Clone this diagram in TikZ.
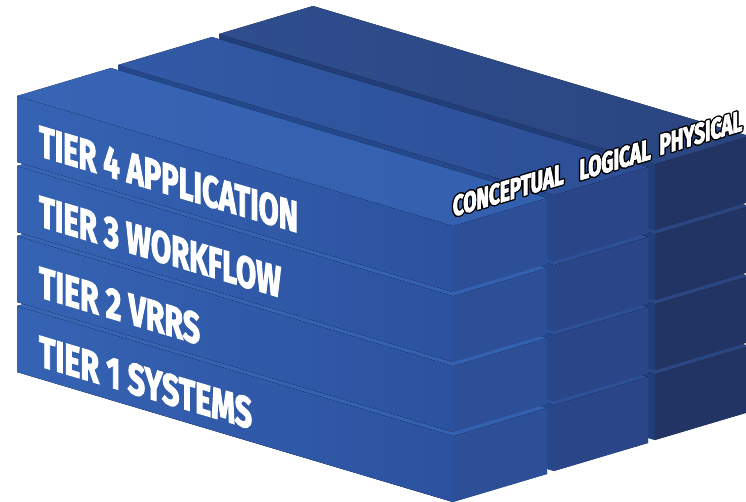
\documentclass[tikz,border=0pt]{standalone}
\usepackage{fontspec}
\usepackage{graphicx}
\setmainfont{Fira Sans}
\newfontfamily\tierfont{Fira Sans}[BoldFeatures={FakeBold=3}]
\newfontfamily\colfont{Fira Sans}[BoldFeatures={FakeBold=3,FakeStretch=0.65}]
\usetikzlibrary{calc}

\definecolor{cAfl}{HTML}{3563B3}
\definecolor{cAfr}{HTML}{2C529F}
\definecolor{cAr}{HTML}{2D4F98}
\definecolor{cAt}{HTML}{3764B4}
\definecolor{cAt2}{HTML}{3260AE}
\definecolor{cBf}{HTML}{25478B}
\definecolor{cBr}{HTML}{2A4688}
\definecolor{cBt}{HTML}{325AA6}
\definecolor{cBt2}{HTML}{2C4E95}
\definecolor{cCf}{HTML}{213E78}
\definecolor{cCr}{HTML}{213463}
\definecolor{cCt}{HTML}{2F4E8E}
\definecolor{cCt2}{HTML}{2A4580}

\newcommand\olcopy[3]{\makebox[0pt][l]{\color{black}\kern#1\raisebox{#2}{#3}}}
\newcommand\outlined[1]{%
  \olcopy{-1.4pt}{0pt}{#1}\olcopy{1.4pt}{0pt}{#1}%
  \olcopy{0pt}{1.4pt}{#1}\olcopy{0pt}{-1.4pt}{#1}%
  \olcopy{-1pt}{1pt}{#1}\olcopy{1pt}{1pt}{#1}%
  \olcopy{-1pt}{-1pt}{#1}\olcopy{1pt}{-1pt}{#1}%
  #1}

\tikzset{
  front0/.style={left color=cAfl, right color=cAfr},
  right0/.style={fill=cAr},
  top0/.style={left color=cAt, right color=cAt2},
  sil0/.style={fill=cAr},
  front1/.style={fill=cBf},
  right1/.style={fill=cBr},
  top1/.style={left color=cBt, right color=cBt2},
  sil1/.style={fill=cBr},
  front2/.style={fill=cCf},
  right2/.style={fill=cCr},
  top2/.style={left color=cCt, right color=cCt2},
  sil2/.style={fill=cCr},
  tierlbl/.style={anchor=base west, inner sep=0pt, outer sep=0pt, text=white,
    font=\tierfont\bfseries, yslant=-0.296},
  collbl/.style={anchor=base west, inner sep=0pt, outer sep=0pt, text=white,
    font=\colfont\bfseries\fontsize{29pt}{32pt}\selectfont, yslant=0.298},
}

% block: #1 column (0 front .. 2 back), #2 tier (1 bottom .. 4 top)
\newcommand\drawblock[2]{%
  \pgfmathsetmacro\px{17+101*#1}%
  \pgfmathsetmacro\py{372-31*#1}%
  \pgfmathsetmacro\zb{(#2-1)*70}%
  \pgfmathsetmacro\ya{\py-\zb}%
  \pgfmathsetmacro\yt{\py-\zb-66}%
  \fill[sil#1] (\px,\ya) -- ++(436,130) -- ++(94,-28) -- ++(0,-66)
     -- ++(-94,28) -- ++(-436,-130) -- cycle;
  \fill[front#1] (\px,\ya) -- ++(436,130) -- ++(0,-66) -- ++(-436,-130) -- cycle;
  \fill[right#1] ($(\px,\ya)+(436,130)$) -- ++(94,-28) -- ++(0,-66) -- ++(-94,28) -- cycle;
  \fill[top#1] (\px,\yt) -- ++(436,130) -- ++(94,-28) -- ++(-436,-130) -- cycle;
}

\begin{document}
\begin{tikzpicture}[x=1pt,y=-1pt]
\useasboundingbox (0,0) rectangle (746,502);
\foreach \k in {2,1,0}{
  \foreach \n in {1,2,3,4}{
    \drawblock{\k}{\n}
  }
}
\node[tierlbl] (t4) at (39,156) {\resizebox{259pt}{31pt}{TIER 4 APPLICATION}};
\node[tierlbl] (t3) at (39,226) {\resizebox{242pt}{31pt}{TIER 3 WORKFLOW}};
\node[tierlbl] (t2) at (39,297) {\resizebox{161pt}{31pt}{TIER 2 VRRS}};
\node[tierlbl] (t1) at (39,366) {\resizebox{213pt}{31pt}{TIER 1 SYSTEMS}};

\node[collbl] (lc) at (453,216.7) {\outlined{CONCEPTUAL}};
\node[collbl] (ll) at (579.5,180.3) {\outlined{LOGICAL}};
\node[collbl] (lp) at (659.5,155.2) {\outlined{PHYSICAL}};
\end{tikzpicture}
\end{document}
